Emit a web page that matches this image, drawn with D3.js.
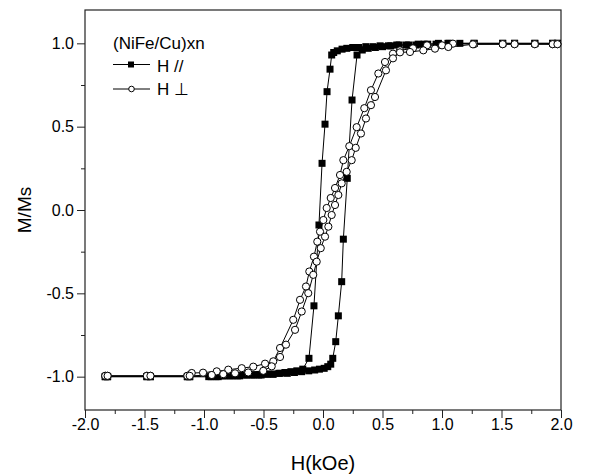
<!DOCTYPE html>
<html>
<head>
<meta charset="utf-8">
<script src="https://cdn.jsdelivr.net/npm/d3@7"></script>
<style>
  body { margin: 0; background: #fff; }
  text { font-family: Arial, "Liberation Sans", sans-serif; fill: #000; }
</style>
</head>
<body>
<div id="container"></div>
<script>
// H // (filled squares), field sweep from +H to -H
const parDownH = [1.97, 1.93, 1.78, 1.61, 1.51, 1.27, 1.15, 1.05, 0.95, 0.85, 0.78, 0.70, 0.62, 0.55, 0.48, 0.42, 0.36, 0.30, 0.25, 0.20, 0.16, 0.12, 0.09,
  0.073, 0.059, 0.034, 0.017, -0.008, -0.034, -0.076, -0.118,
  -0.17, -0.22, -0.27, -0.32, -0.37, -0.42, -0.47, -0.52, -0.58, -0.64, -0.70, -0.76, -0.82, -0.88, -0.94,
  -1.12, -1.14, -1.45, -1.48, -1.81, -1.83];
const parDownM = [1.0, 1.0, 1.0, 1.0, 1.0, 1.0, 1.0, 1.0, 0.995, 0.995, 0.99, 0.99, 0.99, 0.985, 0.985, 0.98, 0.98, 0.975, 0.975, 0.97, 0.965, 0.955, 0.945,
  0.93, 0.845, 0.71, 0.515, 0.28, -0.09, -0.575, -0.89,
  -0.955, -0.965, -0.97, -0.975, -0.98, -0.985, -0.985, -0.99, -0.99, -0.99, -0.995, -0.995, -0.995, -1.0, -1.0,
  -1.0, -1.0, -1.0, -1.0, -1.0, -1.0];
// H // (filled squares), field sweep from -H to +H
const parUpH = [-1.83, -1.81, -1.48, -1.45, -1.14, -1.12,
  -0.96, -0.90, -0.84, -0.78, -0.72, -0.66, -0.60, -0.54, -0.48, -0.42, -0.36, -0.30, -0.24, -0.18, -0.12, -0.07, -0.03, 0.01, 0.04, 0.065,
  0.082, 0.107, 0.129, 0.157, 0.171, 0.204, 0.244, 0.286,
  0.33, 0.38, 0.44, 0.50, 0.57, 0.64, 0.72, 0.80, 0.88, 0.97, 1.06,
  1.27, 1.51, 1.61, 1.78, 1.93, 1.97];
const parUpM = [-1.0, -1.0, -1.0, -1.0, -1.0, -1.0,
  -1.0, -1.0, -0.995, -0.995, -0.995, -0.99, -0.99, -0.99, -0.985, -0.985, -0.98, -0.98, -0.975, -0.97, -0.965, -0.96, -0.955, -0.95, -0.94, -0.925,
  -0.89, -0.79, -0.635, -0.43, -0.175, 0.19, 0.66, 0.93,
  0.96, 0.97, 0.975, 0.98, 0.985, 0.99, 0.99, 0.995, 0.995, 1.0, 1.0,
  1.0, 1.0, 1.0, 1.0, 1.0, 1.0];

// H ⊥ (open circles), field sweep from +H to -H
const perpDownH = [1.97, 1.93, 1.78, 1.61, 1.51, 1.27, 1.092, 1.0, 0.874, 0.756, 0.647, 0.588, 0.521, 0.465, 0.403, 0.347, 0.283, 0.221, 0.171, 0.143,
  0.101, 0.065, 0.031, 0.003, -0.025, -0.048, -0.076, -0.115, -0.143, -0.193, -0.25, -0.361, -0.418, -0.487, -0.586, -0.683, -0.796, -0.893, -1.008, -1.103,
  -1.14, -1.45, -1.48, -1.81, -1.83];
const perpDownM = [0.995, 0.995, 0.995, 0.995, 0.995, 0.995, 0.998, 0.988, 0.988, 0.97, 0.958, 0.938, 0.888, 0.819, 0.719, 0.611, 0.497, 0.383, 0.299, 0.21,
  0.132, 0.072, 0.012, -0.06, -0.13, -0.19, -0.28, -0.369, -0.459, -0.539, -0.659, -0.828, -0.908, -0.922, -0.94, -0.949, -0.958, -0.968, -0.976, -0.978,
  -0.995, -0.995, -0.995, -0.995, -0.995];
// H ⊥ (open circles), field sweep from -H to +H
const perpUpH = [-1.83, -1.81, -1.48, -1.45, -1.14, -1.12, -0.935, -0.838, -0.739, -0.628, -0.502, -0.431, -0.361, -0.311, -0.235, -0.179, -0.124, -0.082,
  -0.053, -0.019, 0.017, 0.045, 0.073, 0.101, 0.129, 0.157, 0.199, 0.241, 0.275, 0.319, 0.361, 0.403, 0.437, 0.529, 0.588, 0.647, 0.731, 0.843, 0.941, 1.053,
  1.26, 1.51, 1.61, 1.78, 1.93, 1.97];
const perpUpM = [-0.995, -0.995, -0.995, -0.995, -0.995, -0.995, -0.99, -0.985, -0.98, -0.975, -0.965, -0.938, -0.882, -0.808, -0.719, -0.609, -0.499, -0.389,
  -0.31, -0.229, -0.16, -0.1, -0.03, 0.03, 0.09, 0.16, 0.229, 0.299, 0.373, 0.459, 0.549, 0.629, 0.678, 0.838, 0.91, 0.946, 0.948, 0.958, 0.968, 0.978,
  0.994, 0.995, 0.995, 0.995, 0.995, 0.995];

// tick values
const xMajor = [-2.0, -1.5, -1.0, -0.5, 0.0, 0.5, 1.0, 1.5, 2.0];
const xMinor = [-1.75, -1.25, -0.75, -0.25, 0.25, 0.75, 1.25, 1.75];
const yMajor = [-1.0, -0.5, 0.0, 0.5, 1.0];
const yMinor = [-0.75, -0.25, 0.25, 0.75];

const toPoints = (hs, ms) => hs.map((h, i) => ({ h: h, m: ms[i] }));
const parallel = toPoints(parDownH, parDownM).concat(toPoints(parUpH, parUpM));
const perpendicular = toPoints(perpDownH, perpDownM).concat(toPoints(perpUpH, perpUpM));

const width = 603,
  height = 474;

const svg = d3
  .select("#container")
  .append("svg")
  .attr("width", width)
  .attr("height", height);

svg.append("rect").attr("width", width).attr("height", height).attr("fill", "#fff");

const x = d3.scaleLinear().domain([-2, 2]).range([85, 561]);
const y = d3.scaleLinear().domain([-1.2, 1.2]).range([410, 10]);

const fmt = (d) => d.toFixed(1);

//bottom axis
const xAxis = svg.append("g").attr("transform", "translate(0,410)");
xAxis.call(d3.axisBottom(x).tickValues(xMajor).tickSize(8).tickSizeOuter(0).tickPadding(1).tickFormat(fmt));
xAxis.append("g").call(d3.axisBottom(x).tickValues(xMinor).tickSize(4).tickSizeOuter(0).tickFormat(""));

//left axis
const yAxis = svg.append("g").attr("transform", "translate(85,0)");
yAxis.call(d3.axisLeft(y).tickValues(yMajor).tickSize(8).tickSizeOuter(0).tickPadding(3).tickFormat(fmt));
yAxis.append("g").call(d3.axisLeft(y).tickValues(yMinor).tickSize(4).tickSizeOuter(0).tickFormat(""));

svg.selectAll(".domain").remove();
svg.selectAll(".tick line").attr("stroke", "#222");
svg
  .selectAll(".tick text")
  .style("font-size", "16px")
  .style("font-family", "Arial, 'Liberation Sans', sans-serif")
  .attr("fill", "#000");

//plot frame
svg
  .append("rect")
  .attr("x", x(-2))
  .attr("y", y(1.2))
  .attr("width", x(2) - x(-2))
  .attr("height", y(-1.2) - y(1.2))
  .attr("fill", "none")
  .attr("stroke", "#222")
  .attr("stroke-width", 1.2);

//axis titles
svg
  .append("text")
  .attr("x", (x(-2) + x(2)) / 2)
  .attr("y", 470)
  .attr("text-anchor", "middle")
  .style("font-size", "20px")
  .text("H(kOe)");

svg
  .append("text")
  .attr("transform", "translate(31,210) rotate(-90)")
  .attr("text-anchor", "middle")
  .style("font-size", "19px")
  .text("M/Ms");

const line = d3
  .line()
  .x((d) => x(d.h))
  .y((d) => y(d.m));

//filled squares loop
svg
  .append("path")
  .datum(parallel)
  .attr("d", line)
  .attr("fill", "none")
  .attr("stroke", "#000")
  .attr("stroke-width", 1);

svg
  .selectAll(".sq")
  .data(parallel)
  .enter()
  .append("rect")
  .attr("class", "sq")
  .attr("x", (d) => x(d.h) - 3.5)
  .attr("y", (d) => y(d.m) - 3.5)
  .attr("width", 7)
  .attr("height", 7)
  .attr("fill", "#000");

//open circles loop
svg
  .append("path")
  .datum(perpendicular)
  .attr("d", line)
  .attr("fill", "none")
  .attr("stroke", "#000")
  .attr("stroke-width", 1);

svg
  .selectAll(".ci")
  .data(perpendicular)
  .enter()
  .append("circle")
  .attr("class", "ci")
  .attr("cx", (d) => x(d.h))
  .attr("cy", (d) => y(d.m))
  .attr("r", 3.6)
  .attr("fill", "#fff")
  .attr("stroke", "#000")
  .attr("stroke-width", 1);

//legend
const legend = svg.append("g").attr("id", "legend");
legend.append("text").attr("x", 113).attr("y", 49).style("font-size", "17px").text("(NiFe/Cu)xn");

legend.append("line").attr("x1", 113).attr("x2", 150).attr("y1", 64.5).attr("y2", 64.5).attr("stroke", "#000");
legend.append("rect").attr("x", 128).attr("y", 61.5).attr("width", 6).attr("height", 6).attr("fill", "#000");
legend.append("text").attr("x", 157).attr("y", 72).style("font-size", "17px").text("H //");

legend.append("line").attr("x1", 113).attr("x2", 150).attr("y1", 89).attr("y2", 89).attr("stroke", "#000");
legend.append("circle").attr("cx", 131.5).attr("cy", 89).attr("r", 2.8).attr("fill", "#fff").attr("stroke", "#000");
legend.append("text").attr("x", 157).attr("y", 95).style("font-size", "17px").text("H ⊥");
</script>
</body>
</html>
